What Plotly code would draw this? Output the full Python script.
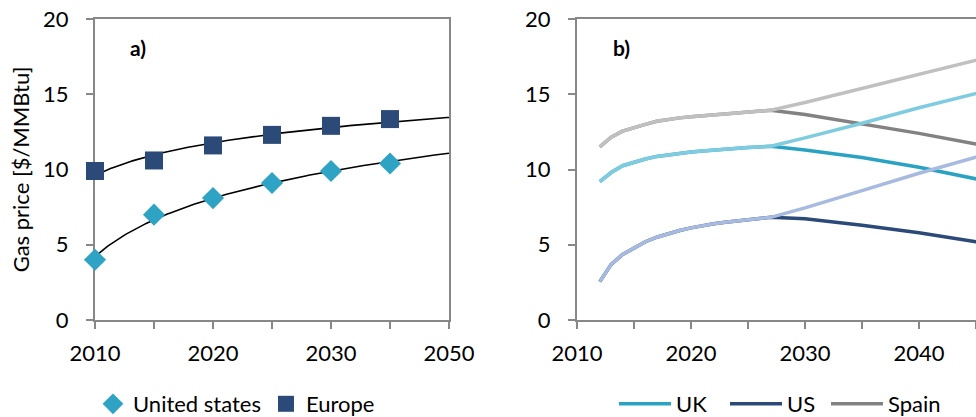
import numpy as np
import plotly.graph_objects as go

# ---- Panel a: projected gas price, United States vs Europe ----
a_categories = ["2010", "2015", "2020", "2025", "2030", "2035", "2050"]
us_price = [4.0, 7.0, 8.1, 9.1, 9.9, 10.4]
europe_price = [9.9, 10.6, 11.6, 12.3, 12.9, 13.35]

# ---- Panel b: price scenarios (shared history, then low / high paths) ----
b_base_years = list(range(2012, 2028))
uk_base = [9.2, 9.8, 10.25, 10.5, 10.7, 10.87, 10.98, 11.08, 11.16, 11.23,
           11.3, 11.36, 11.41, 11.46, 11.5, 11.54]
us_base = [2.55, 3.7, 4.35, 4.8, 5.2, 5.5, 5.75, 5.95, 6.12, 6.27,
           6.4, 6.5, 6.6, 6.68, 6.75, 6.82]
spain_base = [11.5, 12.15, 12.55, 12.8, 13.0, 13.2, 13.33, 13.43, 13.5, 13.57,
              13.63, 13.7, 13.76, 13.82, 13.88, 13.94]

b_proj_years = [2030, 2035, 2040, 2045, 2050]
uk_low = [11.3, 10.8, 10.15, 9.38, 8.6]
uk_high = [12.1, 13.07, 14.1, 15.05, 16.0]
us_low = [6.72, 6.3, 5.8, 5.2, 4.55]
us_high = [7.45, 8.6, 9.75, 10.82, 11.9]
spain_low = [13.65, 13.05, 12.4, 11.7, 11.0]
spain_high = [14.45, 15.4, 16.35, 17.3, 18.2]

FONT = "Lato"
AXIS_GREY = "#888888"
TICK_SIZE = 22


def log_trend(values, n_categories, n_points=200):
    """Least-squares fit y = a*ln(k) + b over category number k = 1..n."""
    k = np.arange(1, len(values) + 1)
    a, b = np.polyfit(np.log(k), np.asarray(values, dtype=float), 1)
    t = np.linspace(1, n_categories, n_points)
    return t - 1, a * np.log(t) + b


fig = go.Figure()

cat_idx = list(range(len(us_price)))
n_cat = len(a_categories)

# trend lines (drawn first so the markers sit on top)
for vals in (us_price, europe_price):
    tx, ty = log_trend(vals, n_cat)
    fig.add_trace(go.Scatter(x=tx, y=ty, mode="lines", line=dict(color="black", width=1.6),
                             showlegend=False, hoverinfo="skip", xaxis="x", yaxis="y"))

fig.add_trace(go.Scatter(x=cat_idx, y=us_price, mode="markers", name="United states",
                         marker=dict(symbol="diamond", size=17, color="#2fa3c3"),
                         cliponaxis=False, legend="legend", xaxis="x", yaxis="y"))
fig.add_trace(go.Scatter(x=cat_idx, y=europe_price, mode="markers", name="Europe",
                         marker=dict(symbol="square", size=18, color="#2b4a78"),
                         cliponaxis=False, legend="legend", xaxis="x", yaxis="y"))

# panel b: low paths first, high paths on top
years_full = b_base_years + b_proj_years
series_b = [
    ("UK", uk_base, uk_low, uk_high, "#2aa3c3", "#7fcbe0", "legend2"),
    ("US", us_base, us_low, us_high, "#2b4a78", "#a7badf", "legend2"),
    ("Spain", spain_base, spain_low, spain_high, "#828282", "#c0c0c0", "legend3"),
]
for name, base, low, high, c_low, c_high, leg in series_b:
    fig.add_trace(go.Scatter(x=years_full, y=base + low, mode="lines", name=name,
                             line=dict(color=c_low, width=3.5),
                             legend=leg, xaxis="x2", yaxis="y2"))
for name, base, low, high, c_low, c_high, leg in series_b:
    fig.add_trace(go.Scatter(x=years_full, y=base + high, mode="lines", name=name + " (high)",
                             line=dict(color=c_high, width=3.5),
                             showlegend=False, xaxis="x2", yaxis="y2"))

W, H = 976, 417
y_dom = [1 - 320 / H, 1 - 19 / H]
LEG_Y = 1 - 404 / H

axis_common = dict(showline=True, linecolor=AXIS_GREY, linewidth=2, showgrid=False,
                   zeroline=False, ticks="outside", ticklen=7, tickwidth=2,
                   tickcolor=AXIS_GREY, layer="below traces", automargin=False,
                   tickfont=dict(family=FONT, size=TICK_SIZE, color="black"))

line_legend = dict(orientation="h", y=LEG_Y, xanchor="left", yanchor="middle",
                   font=dict(family=FONT, size=22), bgcolor="rgba(0,0,0,0)", itemwidth=52)

fig.update_layout(
    template="none",
    width=W, height=H,
    margin=dict(l=0, r=0, t=0, b=0, pad=0, autoexpand=False),
    paper_bgcolor="white", plot_bgcolor="white",
    font=dict(family=FONT, color="black"),
    xaxis=dict(domain=[95 / W, 449 / W], range=[0, n_cat - 1],
               tickvals=list(range(0, n_cat, 2)), ticktext=a_categories[::2],
               minor=dict(tickvals=list(range(1, n_cat, 2)), ticks="outside", ticklen=7,
                          tickwidth=2, tickcolor=AXIS_GREY),
               mirror=True, ticklabelstandoff=6, anchor="y", **axis_common),
    yaxis=dict(domain=y_dom, range=[0, 20], dtick=5, mirror=True, anchor="x",
               ticklabelstandoff=13,
               title=dict(text="Gas price [$/MMBtu]", font=dict(family=FONT, size=22),
                          standoff=7),
               **axis_common),
    xaxis2=dict(domain=[577 / W, 1.0], range=[2010, 2045],
                tickvals=[2010, 2020, 2030, 2040],
                minor=dict(dtick=5, tick0=2010, ticks="outside", ticklen=7,
                           tickwidth=2, tickcolor=AXIS_GREY),
                mirror=True, ticklabelstandoff=6, anchor="y2", **axis_common),
    yaxis2=dict(domain=y_dom, range=[0, 20], dtick=5, anchor="x2",
                ticklabelstandoff=13, **axis_common),
    legend=dict(orientation="h", x=93 / W, y=LEG_Y, xanchor="left", yanchor="middle",
                font=dict(family=FONT, size=22), bgcolor="rgba(0,0,0,0)",
                itemwidth=30, tracegroupgap=0),
    legend2=dict(x=614 / W, entrywidth=44, entrywidthmode="pixels", **line_legend),
    legend3=dict(x=826 / W, **line_legend),
    annotations=[
        dict(text="<b>a)</b>", x=138 / W, y=1 - 48 / H, xref="paper", yref="paper",
             xanchor="center", yanchor="middle", showarrow=False,
             font=dict(family=FONT, size=21, color="black")),
        dict(text="<b>b)</b>", x=621 / W, y=1 - 48 / H, xref="paper", yref="paper",
             xanchor="center", yanchor="middle", showarrow=False,
             font=dict(family=FONT, size=21, color="black")),
    ],
)

fig.write_html("out.html")
